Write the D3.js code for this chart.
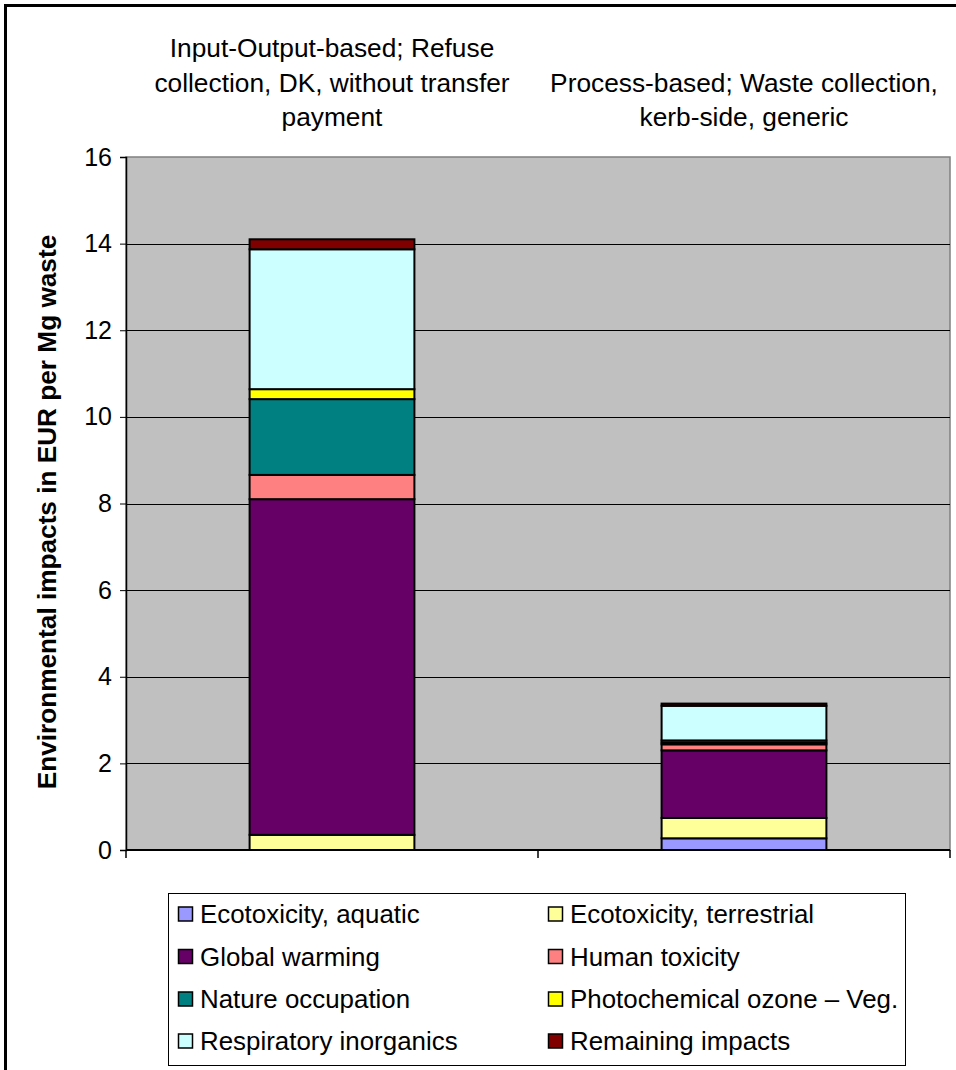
<!DOCTYPE html>
<html>
<head>
<meta charset="utf-8">
<script src="https://cdn.jsdelivr.net/npm/d3@7"></script>
<style>
  html, body { margin: 0; padding: 0; background: #fff; }
  svg { display: block; font-family: "Liberation Sans", Arial, sans-serif; }
</style>
</head>
<body>
<svg id="chart" width="956" height="1070"></svg>
<script>
// Two collection scenarios, each broken down by impact category (EUR per Mg waste)
const categories = ["io", "process"];
const categoryLabels = [
  ["Input-Output-based; Refuse", "collection, DK, without transfer", "payment"],
  ["Process-based; Waste collection,", "kerb-side, generic"]
];
const impactNames = [
  "Ecotoxicity, aquatic", "Ecotoxicity, terrestrial", "Global warming", "Human toxicity",
  "Nature occupation", "Photochemical ozone – Veg.", "Respiratory inorganics", "Remaining impacts"
];
const ecotoxAquatic     = [0.00, 0.27];
const ecotoxTerrestrial = [0.35, 0.47];
const globalWarming     = [7.75, 1.56];
const humanToxicity     = [0.56, 0.14];
const natureOccupation  = [1.75, 0.04];
const photochemOzone    = [0.23, 0.05];
const respInorganics    = [3.23, 0.80];
const remainingImpacts  = [0.23, 0.05];
const yTicks = [0, 2, 4, 6, 8, 10, 12, 14, 16];
const impactColors = ["#9999FF", "#FFFF99", "#660066", "#FF8080", "#008080", "#FFFF00", "#CCFFFF", "#800000"];

const seriesValues = [ecotoxAquatic, ecotoxTerrestrial, globalWarming, humanToxicity,
  natureOccupation, photochemOzone, respInorganics, remainingImpacts];

const rows = categories.map((c, i) => {
  const r = { cat: c };
  impactNames.forEach((n, k) => { r[n] = seriesValues[k][i]; });
  return r;
});

const svg = d3.select("#chart");
const plot = { left: 126, right: 950, top: 157, bottom: 850 };

// outer frame
svg.append("path")
  .attr("d", "M5.5,1075 V5.5 H962")
  .attr("fill", "none").attr("stroke", "#000").attr("stroke-width", 3);

const x = d3.scaleBand().domain(categories).range([plot.left, plot.right]).paddingInner(0.6).paddingOuter(0.3);
const y = d3.scaleLinear().domain([0, 16]).range([plot.bottom, plot.top]);

// plot background
svg.append("rect")
  .attr("x", plot.left).attr("y", plot.top)
  .attr("width", plot.right - plot.left).attr("height", plot.bottom - plot.top)
  .attr("fill", "#C0C0C0").attr("stroke", "#808080").attr("stroke-width", 1.5);

// gridlines
svg.append("g").selectAll("line").data(yTicks.filter(t => t > 0 && t < 16)).join("line")
  .attr("x1", plot.left).attr("x2", plot.right)
  .attr("y1", d => Math.round(y(d)) + 0.5).attr("y2", d => Math.round(y(d)) + 0.5)
  .attr("stroke", "#000").attr("stroke-width", 1);

// y axis
const yAxis = svg.append("g").attr("transform", `translate(${plot.left},0)`)
  .call(d3.axisLeft(y).tickValues(yTicks).tickSize(6).tickPadding(8).tickFormat(d3.format("d")));
yAxis.select(".domain").attr("stroke", "#000").attr("stroke-width", 1.5);
yAxis.selectAll(".tick line").attr("stroke", "#000");
yAxis.selectAll("text").attr("font-size", 25).attr("fill", "#000")
  .attr("font-family", "Liberation Sans, Arial, sans-serif");

// category axis along the bottom (ticks between groups)
const xEdges = [plot.left, (plot.left + plot.right) / 2, plot.right];
svg.append("line").attr("x1", plot.left).attr("x2", plot.right)
  .attr("y1", plot.bottom).attr("y2", plot.bottom).attr("stroke", "#000").attr("stroke-width", 2);
svg.append("g").selectAll("line").data(xEdges).join("line")
  .attr("x1", d => d).attr("x2", d => d)
  .attr("y1", plot.bottom).attr("y2", plot.bottom + 8)
  .attr("stroke", "#000").attr("stroke-width", 1.5);

// stacked bars
const stack = d3.stack().keys(impactNames);
const layers = stack(rows);
svg.append("g").selectAll("g").data(layers).join("g")
  .attr("fill", (d, i) => impactColors[i])
  .selectAll("rect").data(d => d).join("rect")
  .filter(d => d[1] - d[0] > 0)
  .attr("x", d => x(d.data.cat))
  .attr("width", x.bandwidth())
  .attr("y", d => y(d[1]))
  .attr("height", d => y(d[0]) - y(d[1]))
  .attr("stroke", "#000").attr("stroke-width", 2);

// category labels above the plot, bottom-aligned
const catG = svg.append("g");
categories.forEach((c, i) => {
  const lines = categoryLabels[i];
  const cx = x(c) + x.bandwidth() / 2;
  const lastBaseline = 126;
  lines.forEach((t, j) => {
    catG.append("text")
      .attr("x", cx)
      .attr("y", lastBaseline - (lines.length - 1 - j) * 34.5)
      .attr("text-anchor", "middle")
      .attr("font-size", 26.3)
      .attr("fill", "#000")
      .text(t);
  });
});

// y axis title
svg.append("text")
  .attr("transform", `translate(56,512) rotate(-90)`)
  .attr("text-anchor", "middle")
  .attr("font-size", 26.2).attr("font-weight", "bold")
  .text("Environmental impacts in EUR per Mg waste");

// legend
const legend = svg.append("g");
legend.append("rect").attr("x", 168.5).attr("y", 893.5).attr("width", 737).attr("height", 172)
  .attr("fill", "#fff").attr("stroke", "#000").attr("stroke-width", 1);
const colX = [178, 548];
const rowY = [914, 956.5, 999, 1041];
impactNames.forEach((n, k) => {
  const cx = colX[k % 2], cy = rowY[Math.floor(k / 2)];
  legend.append("rect").attr("x", cx + 0.5).attr("y", cy - 7).attr("width", 14).attr("height", 14)
    .attr("fill", impactColors[k]).attr("stroke", "#000").attr("stroke-width", 1.5);
  legend.append("text").attr("x", cx + 22).attr("y", cy + 9)
    .attr("font-size", 25.9).attr("fill", "#000").text(n);
});
</script>
</body>
</html>
